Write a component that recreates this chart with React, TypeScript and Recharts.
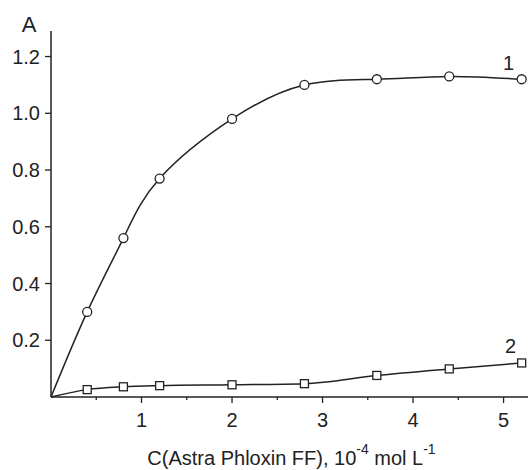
import React from 'react';
import { LineChart, Line, XAxis, YAxis, Label, LabelList } from 'recharts';

// Concentration, 10^-4 mol/L
const concentration = [0, 0.4, 0.8, 1.2, 2.0, 2.8, 3.6, 4.4, 5.2];
// Absorbance, curve 1 (circles) and curve 2 (squares)
const absorbance1 = [0, 0.3, 0.56, 0.77, 0.98, 1.1, 1.12, 1.13, 1.12];
const absorbance2 = [0, 0.026, 0.036, 0.04, 0.043, 0.047, 0.076, 0.099, 0.12];

const xTicks = [0.5, 1, 1.5, 2, 2.5, 3, 3.5, 4, 4.5, 5];
const yTicks = [0.2, 0.4, 0.6, 0.8, 1.0, 1.2];
const seriesNames = ['1', '2'];

const INK = '#222';
const FONT = '"Liberation Sans", Arial, sans-serif';

const data = concentration.map((c, i) => ({ c, a1: absorbance1[i], a2: absorbance2[i] }));

// open circle marker, none at the origin
const CircleDot = (props: any) => {
  const { cx, cy, index } = props;
  if (index === 0) return <g key={`c${index}`} />;
  return <circle key={`c${index}`} cx={cx} cy={cy} r={4.5} fill="#fff" stroke={INK} strokeWidth={1.3} />;
};

// open square marker
const SquareDot = (props: any) => {
  const { cx, cy, index } = props;
  if (index === 0) return <g key={`s${index}`} />;
  return <rect key={`s${index}`} x={cx - 4} y={cy - 4} width={8} height={8} fill="#fff" stroke={INK} strokeWidth={1.3} />;
};

// major ticks carry a label, half-unit ticks are short and bare
const XTick = (props: any) => {
  const { x, y, payload } = props;
  const major = Number.isInteger(payload.value);
  return (
    <g>
      <line x1={x} y1={y} x2={x} y2={y + (major ? 6 : 3)} stroke={INK} strokeWidth={1.3} />
      {major && (
        <text x={x} y={y + 30} textAnchor="middle" fontSize={20} fill={INK} fontFamily={FONT}>
          {payload.value}
        </text>
      )}
    </g>
  );
};

const XTitle = (props: any) => {
  const { viewBox } = props;
  return (
    <text x={viewBox.x + viewBox.width / 2 + 2} y={viewBox.y + 68} textAnchor="middle" fontSize={20} fill={INK} fontFamily={FONT}>
      C(Astra Phloxin FF), 10
      <tspan dy={-11} fontSize={14}>-4</tspan>
      <tspan dy={11}> mol L</tspan>
      <tspan dy={-11} fontSize={14}>-1</tspan>
    </text>
  );
};

const YTitle = (props: any) => {
  const { viewBox } = props;
  return (
    <text x={29} y={viewBox.y + 1} textAnchor="middle" fontSize={22} fill={INK} fontFamily={FONT}>
      A
    </text>
  );
};

const seriesLabel = (name: string, dx: number, dy: number) => (props: any) => {
  const { x, y, index } = props;
  if (index !== concentration.length - 1) return null;
  return (
    <text x={x + dx} y={y + dy} textAnchor="middle" fontSize={20} fill={INK} fontFamily={FONT}>
      {name}
    </text>
  );
};

export default function App() {
  return (
    <div style={{ position: 'absolute', left: 0, top: 0, background: '#fff' }}>
      <LineChart width={529} height={470} data={data} margin={{ top: 31, right: 1, bottom: 0, left: 0 }}>
        <XAxis
          dataKey="c"
          type="number"
          domain={[0, 5.27]}
          ticks={xTicks}
          tick={<XTick />}
          tickSize={0}
          tickMargin={0}
          tickLine={false}
          height={73}
          axisLine={{ stroke: INK, strokeWidth: 1.5 }}
          interval={0}
        >
          <Label content={<XTitle />} />
        </XAxis>
        <YAxis
          type="number"
          domain={[0, 1.29]}
          ticks={yTicks}
          width={51}
          tickSize={6}
          tickMargin={5}
          tickFormatter={(v: number) => v.toFixed(1)}
          tick={{ fontSize: 20, fill: INK, fontFamily: FONT }}
          tickLine={{ stroke: INK, strokeWidth: 1.3 }}
          axisLine={{ stroke: INK, strokeWidth: 1.5 }}
          interval={0}
        >
          <Label content={<YTitle />} />
        </YAxis>
        <Line
          type="natural"
          dataKey="a1"
          stroke={INK}
          strokeWidth={1.5}
          dot={<CircleDot />}
          activeDot={false}
          isAnimationActive={false}
        >
          <LabelList dataKey="a1" content={seriesLabel(seriesNames[0], -13, -9)} />
        </Line>
        <Line
          type="monotone"
          dataKey="a2"
          stroke={INK}
          strokeWidth={1.5}
          dot={<SquareDot />}
          activeDot={false}
          isAnimationActive={false}
        >
          <LabelList dataKey="a2" content={seriesLabel(seriesNames[1], -11, -10)} />
        </Line>
      </LineChart>
    </div>
  );
}
